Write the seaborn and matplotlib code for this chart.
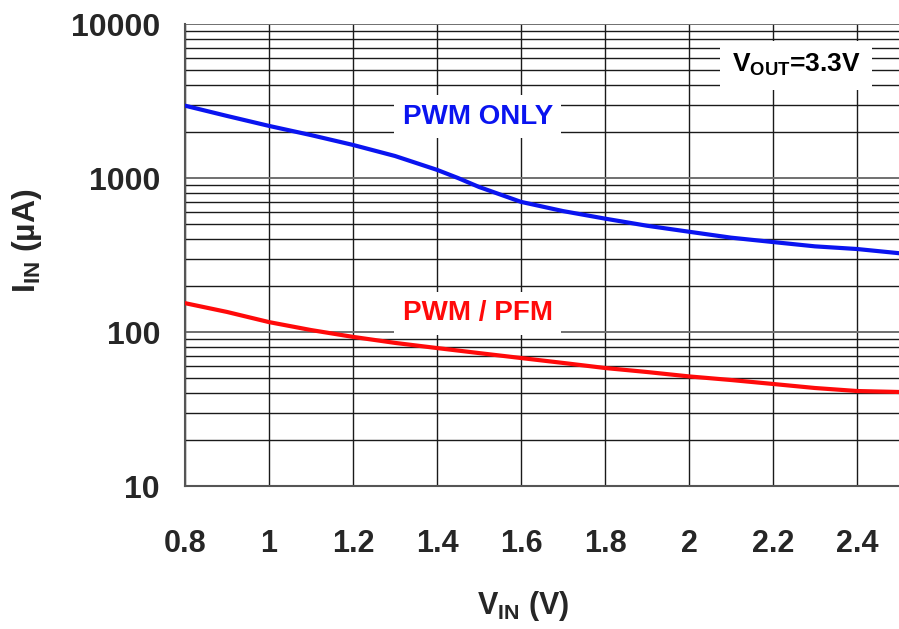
import matplotlib
matplotlib.use("Agg")
import matplotlib.pyplot as plt
from matplotlib.ticker import FixedLocator, NullFormatter, LogLocator
import seaborn as sns
import pandas as pd

sns.set_style("white")
plt.rcParams['font.family'] = ['Liberation Sans', 'DejaVu Sans']
plt.rcParams['font.weight'] = 'bold'
plt.rcParams['mathtext.fontset'] = 'custom'
plt.rcParams['mathtext.rm'] = 'Liberation Sans:bold'
plt.rcParams['mathtext.bf'] = 'Liberation Sans:bold'

# input current vs input voltage, VOUT = 3.3V
vin_pwm = [0.8, 0.9, 1.0, 1.1, 1.2, 1.3, 1.4, 1.45, 1.5, 1.6, 1.7, 1.8, 1.9, 2.0, 2.1, 2.2, 2.3, 2.4, 2.5]
iin_pwm = [2950, 2530, 2180, 1900, 1640, 1390, 1130, 1000, 875, 700, 610, 545, 490, 448, 410, 384, 360, 346, 325]

vin_pfm = [0.8, 0.9, 1.0, 1.1, 1.2, 1.3, 1.4, 1.5, 1.6, 1.7, 1.8, 1.9, 2.0, 2.1, 2.2, 2.3, 2.4, 2.5]
iin_pfm = [154, 135, 116, 103, 93, 85, 78.7, 73, 67.8, 63, 58.4, 55, 51.5, 48.8, 46, 43.3, 41.4, 40.8]

x_ticks = [0.8, 1.0, 1.2, 1.4, 1.6, 1.8, 2.0, 2.2, 2.4]
x_labels = ["0.8", "1", "1.2", "1.4", "1.6", "1.8", "2", "2.2", "2.4"]
y_ticks = [10, 100, 1000, 10000]
y_labels = ["10", "100", "1000", "10000"]

fig = plt.figure(figsize=(8.99, 6.29), dpi=100)
ax = fig.add_axes([0.2058, 0.2273, 0.7942, 0.7345])

df_pwm = pd.DataFrame({"vin": vin_pwm, "iin": iin_pwm})
df_pfm = pd.DataFrame({"vin": vin_pfm, "iin": iin_pfm})
sns.lineplot(data=df_pwm, x="vin", y="iin", color="#0a14f0", lw=3, ax=ax, zorder=3)
sns.lineplot(data=df_pfm, x="vin", y="iin", color="#ff0a0a", lw=3, ax=ax, zorder=3)

ax.set_yscale("log")
ax.set_xlim(0.8, 2.5)
ax.set_ylim(10, 10000)

ax.xaxis.set_major_locator(FixedLocator(x_ticks))
ax.set_xticklabels(x_labels)
ax.yaxis.set_major_locator(FixedLocator(y_ticks))
ax.set_yticklabels(y_labels)
ax.yaxis.set_minor_locator(LogLocator(base=10, subs=range(2, 10)))
ax.yaxis.set_minor_formatter(NullFormatter())

ax.tick_params(axis="x", which="both", length=0, pad=31, labelsize=22)
ax.tick_params(axis="y", which="both", length=0, pad=18, labelsize=23)
for lab in ax.get_xticklabels() + ax.get_yticklabels():
    lab.set_fontweight("bold")

ax.grid(True, which="major", axis="x", color="#1a1a1a", lw=1.0)
ax.grid(True, which="major", axis="y", color="#707070", lw=1.4)
ax.grid(True, which="minor", axis="y", color="#1a1a1a", lw=1.0)

for side in ["top", "right"]:
    ax.spines[side].set_visible(False)
for side in ["left", "bottom"]:
    ax.spines[side].set_color("#555555")
    ax.spines[side].set_linewidth(1.5)

ax.set_xlabel(r"$\mathbf{V_{IN}}$ (V)", fontsize=22, fontweight="bold")
ax.set_ylabel(r"$\mathbf{I_{IN}}$ (µA)", fontsize=23, fontweight="bold")
ax.xaxis.set_label_coords(0.473, -0.222)
ax.yaxis.set_label_coords(-0.198, 0.53)

box = dict(facecolor="white", edgecolor="none", pad=6)
ax.text(1.497, 2500, "PWM ONLY", color="#0a14f0", fontsize=20, fontweight="bold",
        ha="center", va="center", bbox=box, zorder=4)
ax.text(1.497, 132, "PWM / PFM", color="#ff0a0a", fontsize=20, fontweight="bold",
        ha="center", va="center", bbox=box, zorder=4)
ax.text(2.255, 5400, r"V$_{\mathrm{OUT}}$=3.3V", color="black", fontsize=19, fontweight="bold",
        ha="center", va="center", bbox=dict(facecolor="white", edgecolor="none", pad=8), zorder=4)

fig.savefig("out.png", dpi=100)
